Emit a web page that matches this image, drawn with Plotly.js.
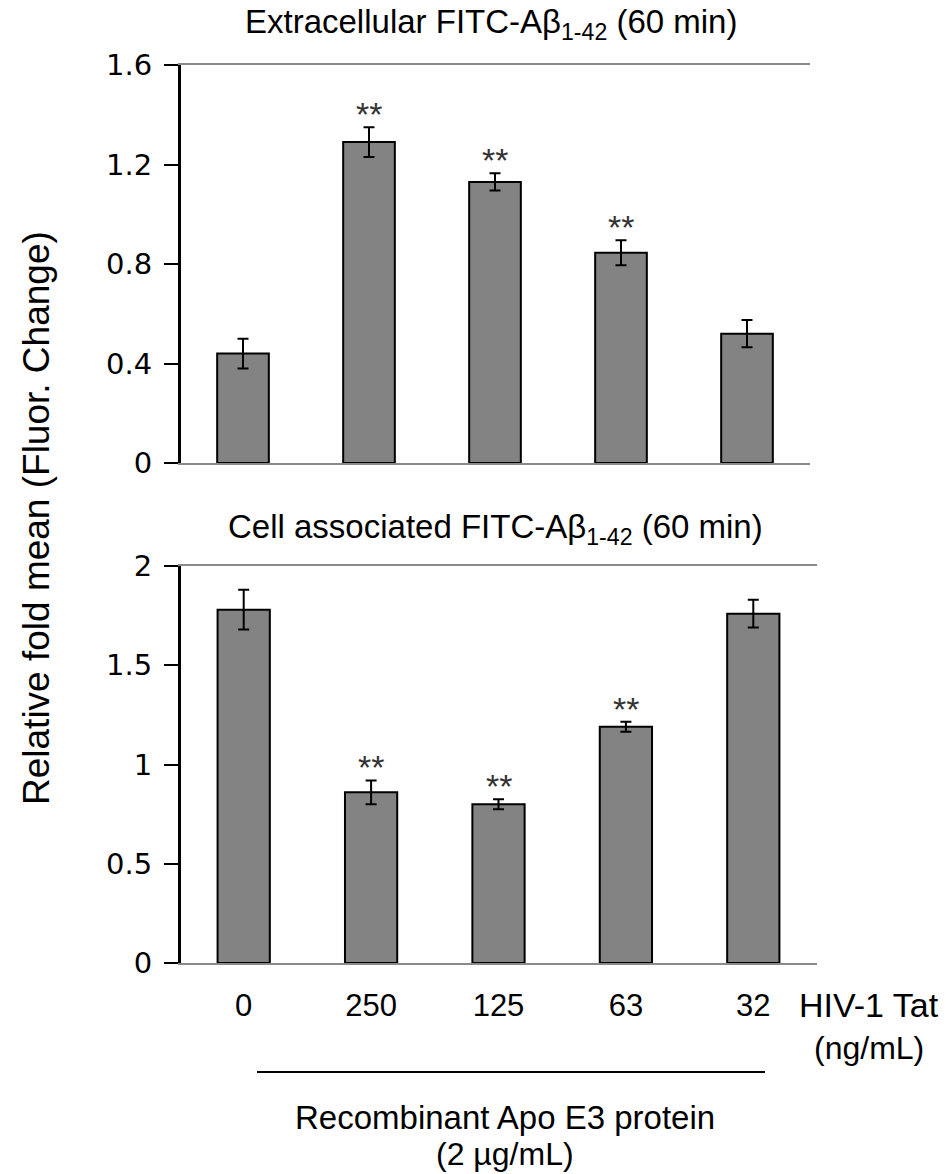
<!DOCTYPE html>
<html>
<head>
<meta charset="utf-8">
<script src="https://cdn.plot.ly/plotly-3.0.1.min.js"></script>
<style>html,body{margin:0;padding:0;background:#fff;}#chart{width:946px;height:1174px;}</style>
</head>
<body>
<div id="chart"></div>
<script>
// ---- data ----
const doses = ['0', '250', '125', '63', '32'];
const extracellularMean = [0.44, 1.29, 1.13, 0.845, 0.52];
const extracellularErr  = [0.06, 0.06, 0.035, 0.05, 0.055];
const extracellularSig  = ['', '**', '**', '**', ''];
const cellMean = [1.78, 0.86, 0.80, 1.19, 1.76];
const cellErr  = [0.10, 0.06, 0.025, 0.025, 0.07];
const cellSig  = ['', '**', '**', '**', ''];
const topTicks = [0, 0.4, 0.8, 1.2, 1.6];
const bottomTicks = [0, 0.5, 1, 1.5, 2];

const W = 946, H = 1174;
const px = v => v / W;
const py = v => 1 - v / H;
const sans = 'Liberation Sans, Arial, sans-serif';
const tickFont = {family: 'DejaVu Sans, Verdana, sans-serif', size: 29, color: '#000'};

function barTrace(y, err, xa, ya) {
  return {
    type: 'bar', x: doses, y: y, xaxis: xa, yaxis: ya, width: 0.41,
    marker: {color: '#838383', line: {color: '#000', width: 2}},
    error_y: {type: 'data', array: err, visible: true, color: '#000', thickness: 2, width: 5.5},
    hoverinfo: 'none', showlegend: false
  };
}

const data = [
  barTrace(extracellularMean, extracellularErr, 'x', 'y'),
  barTrace(cellMean, cellErr, 'x2', 'y2')
];

const annotations = [];
function sigMarks(mean, err, sig, xa, ya) {
  sig.forEach((s, i) => {
    if (!s) return;
    // category axes take the serial index of the category
    annotations.push({xref: xa, yref: ya, x: i, y: mean[i] + err[i], text: s,
      showarrow: false, yanchor: 'bottom', yshift: -8,
      font: {family: sans, size: 34, color: '#333'}});
  });
}
sigMarks(extracellularMean, extracellularErr, extracellularSig, 'x', 'y');
sigMarks(cellMean, cellErr, cellSig, 'x2', 'y2');

function paperText(text, x, y, size, xanchor, angle) {
  annotations.push({xref: 'paper', yref: 'paper', x: px(x), y: py(y), text: text,
    showarrow: false, xanchor: xanchor || 'center', yanchor: 'middle',
    textangle: angle || 0, font: {family: sans, size: size, color: '#000'}});
}
paperText('Extracellular FITC-A\u03b2<sub>1-42</sub> (60 min)', 491, 24, 33);
paperText('Cell associated FITC-A\u03b2<sub>1-42</sub> (60 min)', 495, 529, 33);
paperText('Relative fold mean (Fluor. Change)', 36, 518, 37, 'center', -90);
paperText('HIV-1 Tat', 797, 1005, 34, 'left');
paperText('(ng/mL)', 869, 1048, 32);
paperText('Recombinant Apo E3 protein', 505, 1117, 33);
paperText('(2 \u00b5g/mL)', 505, 1154, 32);

const xCommon = {
  type: 'category', categoryorder: 'array', categoryarray: doses,
  range: [-0.5, 4.5], showgrid: false, zeroline: false,
  showline: true, linecolor: '#8a8a8a', linewidth: 2, mirror: true,
  ticks: '', fixedrange: true
};
const yCommon = {
  showgrid: false, zeroline: false, showline: true, linecolor: '#000', linewidth: 2,
  ticks: 'outside', ticklen: 14, tickwidth: 2, tickcolor: '#000',
  tickfont: tickFont, ticklabelstandoff: 6, fixedrange: true
};

const layout = {
  width: W, height: H,
  margin: {l: 0, r: 0, t: 0, b: 0},
  paper_bgcolor: '#fff', plot_bgcolor: '#fff',
  showlegend: false, bargap: 0.59,
  xaxis: Object.assign({}, xCommon, {domain: [px(180), px(810)], anchor: 'y', showticklabels: false}),
  yaxis: Object.assign({}, yCommon, {domain: [py(463), py(65)], anchor: 'x', range: [0, 1.6], tickvals: topTicks}),
  xaxis2: Object.assign({}, xCommon, {domain: [px(180), px(817)], anchor: 'y2', showticklabels: true,
    tickfont: {family: sans, size: 31, color: '#000'}, ticklabelstandoff: 14}),
  yaxis2: Object.assign({}, yCommon, {domain: [py(963), py(566)], anchor: 'x2', range: [0, 2], tickvals: bottomTicks}),
  annotations: annotations,
  shapes: [
    {type: 'line', xref: 'x domain', yref: 'y domain', x0: 0, x1: 0, y0: 0, y1: 1, line: {color: '#000', width: 2}},
    {type: 'line', xref: 'x2 domain', yref: 'y2 domain', x0: 0, x1: 0, y0: 0, y1: 1, line: {color: '#000', width: 2}},
    {type: 'line', xref: 'paper', yref: 'paper', x0: px(257), x1: px(765), y0: py(1072), y1: py(1072), line: {color: '#000', width: 2}}
  ]
};

Plotly.newPlot('chart', data, layout, {displayModeBar: false, staticPlot: true});
</script>
</body>
</html>
